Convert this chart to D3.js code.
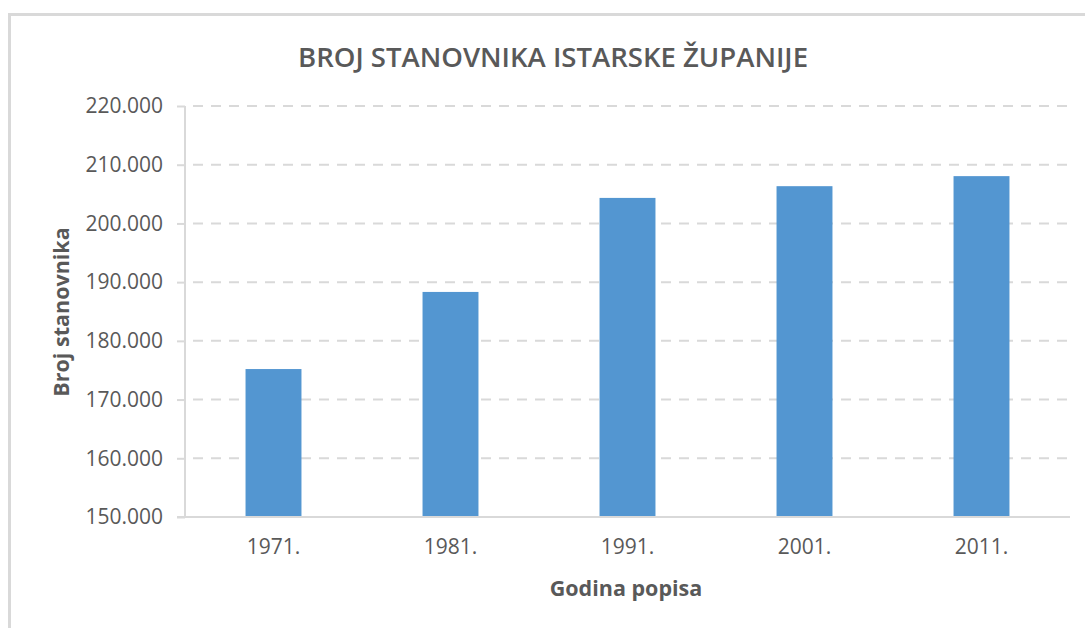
<!DOCTYPE html>
<html><head><meta charset="utf-8">
<script src="https://cdn.jsdelivr.net/npm/d3@7"></script>
<style>html,body{margin:0;padding:0;background:#fff;overflow:hidden}</style>
</head><body>
<svg id="c" width="1085" height="628"></svg>
<script>
const categories = ["1971.", "1981.", "1991.", "2001.", "2011."];
const population = [175199, 188332, 204346, 206344, 208055];
const yTicks = [150000, 160000, 170000, 180000, 190000, 200000, 210000, 220000];
const titleText = "BROJ STANOVNIKA ISTARSKE ŽUPANIJE";
const xTitle = "Godina popisa";
const yTitle = "Broj stanovnika";

const svg = d3.select("#c");
const font = "'Open Sans', sans-serif";
const grey = "#d9d9d9";
const textCol = "#595959";

// chart border
svg.append("path").attr("d", "M9.5,640 L9.5,14.5 L1100,14.5")
  .attr("fill", "none").attr("stroke", grey).attr("stroke-width", 3);

const L = 185, R = 1070, T = 106, B = 517;
const x = d3.scaleBand().domain(categories).range([L, R]).paddingInner(0.684).paddingOuter(0.342);
const y = d3.scaleLinear().domain([150000, 220000]).range([B, T]);

// gridlines
svg.append("g").selectAll("line").data(yTicks.slice(1)).join("line")
  .attr("x1", L).attr("x2", R).attr("y1", d => y(d)).attr("y2", d => y(d))
  .attr("stroke", grey).attr("stroke-width", 2)
  .attr("stroke-dasharray", "10,8").attr("stroke-dashoffset", 10);

// y axis
const yAxis = d3.axisLeft(y).tickValues(yTicks).tickSize(8).tickPadding(14)
  .tickFormat(d => d3.format(",")(d).replace(/,/g, "."));
const gy = svg.append("g").attr("transform", `translate(${L},0)`).call(yAxis);
gy.select(".domain").attr("stroke", grey).attr("stroke-width", 2).attr("d", `M0,${T}V${B}`);
gy.selectAll(".tick line").attr("stroke", grey).attr("stroke-width", 2);
gy.selectAll(".tick text").attr("fill", textCol).style("font-family", font).style("font-size", "21px");

// bars
svg.append("g").selectAll("rect").data(population).join("rect")
  .attr("x", (d, i) => x(categories[i]))
  .attr("width", x.bandwidth())
  .attr("y", d => y(d))
  .attr("height", d => B - y(d))
  .attr("fill", "#5396d1");

// x axis
const xAxis = d3.axisBottom(x).tickSize(0).tickPadding(22);
const gx = svg.append("g").attr("transform", `translate(0,${B})`).call(xAxis);
gx.select(".domain").attr("stroke", grey).attr("stroke-width", 2).attr("d", `M${L - 8},0H${R}`);
gx.selectAll(".tick text").attr("fill", textCol).style("font-family", font).style("font-size", "21px");

// title
svg.append("text").attr("x", 553).attr("y", 67).attr("text-anchor", "middle")
  .attr("fill", textCol).style("font-family", font).style("font-size", "27px").style("font-weight", 600)
  .attr("textLength", 510).attr("lengthAdjust", "spacingAndGlyphs")
  .text(titleText);

// axis titles
svg.append("text").attr("x", 626).attr("y", 596).attr("text-anchor", "middle")
  .attr("fill", textCol).style("font-family", font).style("font-size", "21.5px").style("font-weight", 700)
  .text(xTitle);
svg.append("text").attr("transform", "translate(69,312) rotate(-90)").attr("text-anchor", "middle")
  .attr("fill", textCol).style("font-family", font).style("font-size", "21.5px").style("font-weight", 700)
  .text(yTitle);
</script>
</body></html>
